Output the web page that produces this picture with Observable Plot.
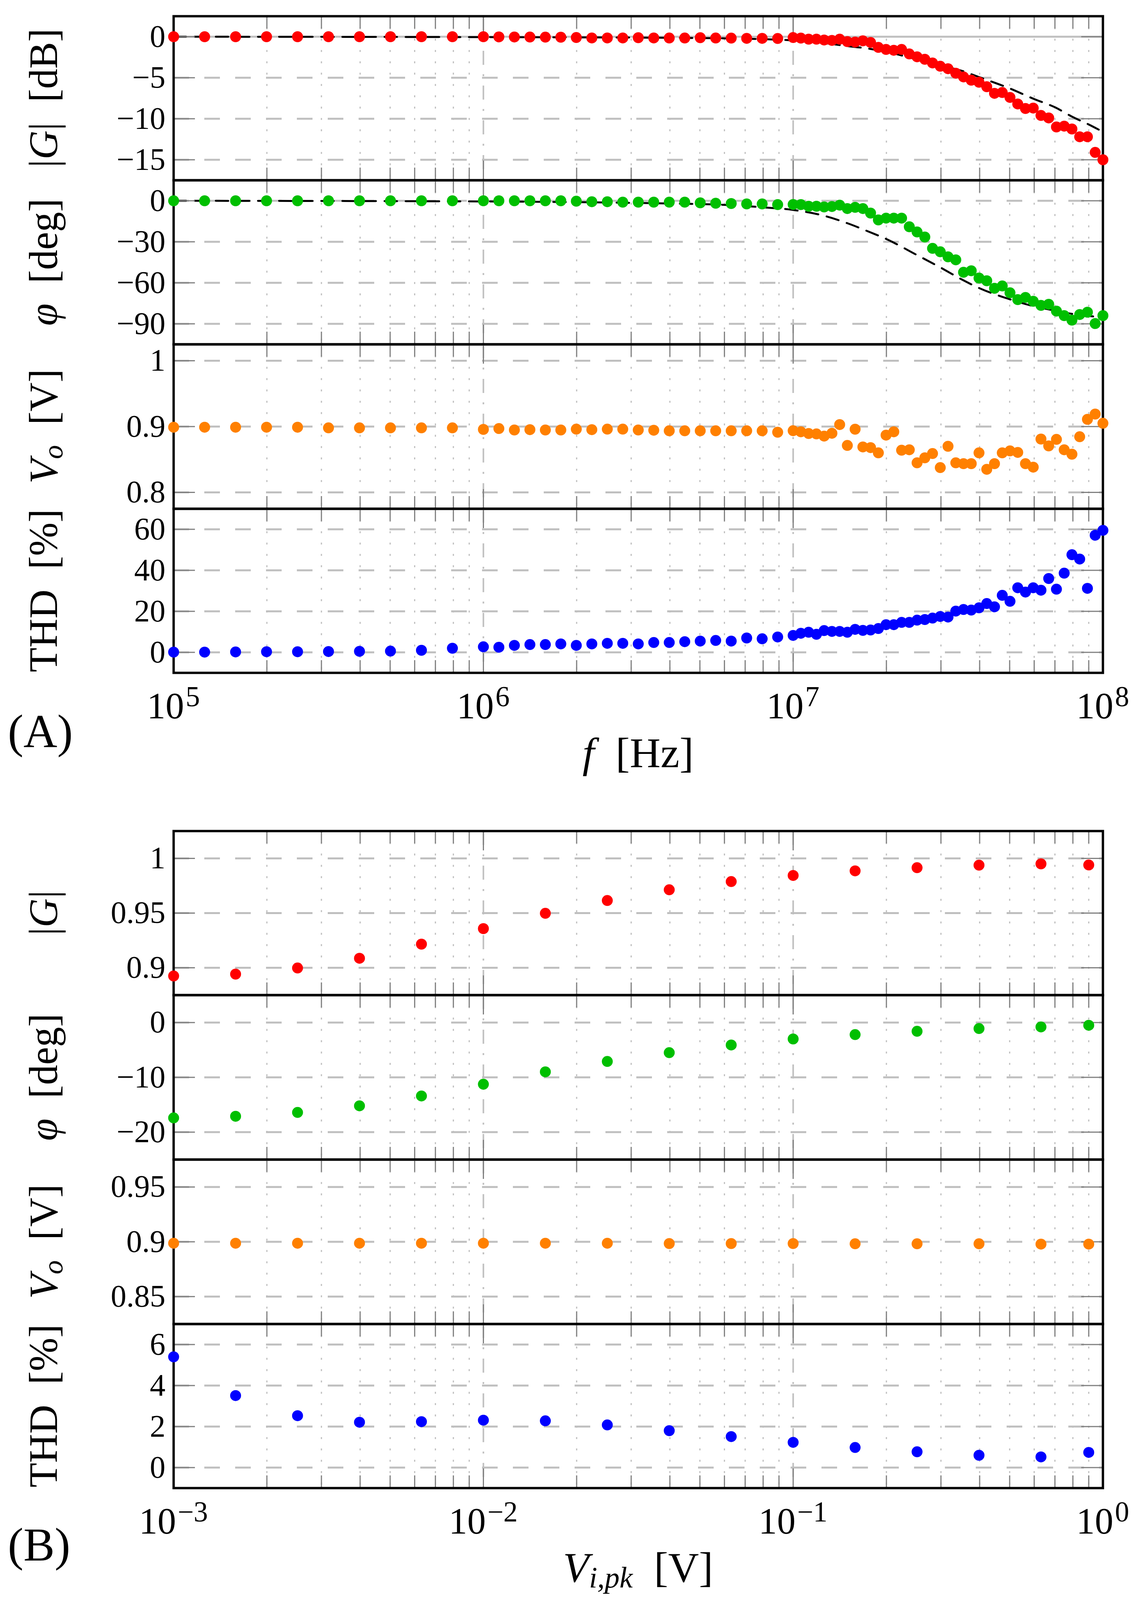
<!DOCTYPE html>
<html>
<head>
<meta charset="utf-8">
<script src="https://cdn.jsdelivr.net/npm/d3@7"></script>
<script src="https://cdn.jsdelivr.net/npm/@observablehq/plot@0.6"></script>
<style>
  html, body { margin: 0; padding: 0; background: white; overflow: hidden; }
  #chart { width: 2921px; }
  #chart svg { display: block; max-width: none; }
</style>
</head>
<body>
<div id="chart"></div>
<script>
// (A) frequency sweep
const freq = [
  1.000e5, 1.259e5, 1.585e5, 1.995e5, 2.512e5, 3.162e5, 3.981e5, 5.012e5, 6.310e5, 7.943e5,
  1.000e6, 1.122e6, 1.259e6, 1.413e6, 1.585e6, 1.778e6, 1.995e6, 2.239e6, 2.512e6, 2.818e6,
  3.162e6, 3.548e6, 3.981e6, 4.467e6, 5.012e6, 5.623e6, 6.310e6, 7.079e6, 7.943e6, 8.913e6,
  1.000e7, 1.059e7, 1.122e7, 1.189e7, 1.259e7, 1.334e7, 1.413e7, 1.496e7, 1.585e7, 1.679e7,
  1.778e7, 1.884e7, 1.995e7, 2.113e7, 2.239e7, 2.371e7, 2.512e7, 2.661e7, 2.818e7, 2.985e7,
  3.162e7, 3.350e7, 3.548e7, 3.758e7, 3.981e7, 4.217e7, 4.467e7, 4.732e7, 5.012e7, 5.309e7,
  5.623e7, 5.957e7, 6.310e7, 6.683e7, 7.079e7, 7.499e7, 7.943e7, 8.414e7, 8.913e7, 9.441e7,
  1.000e8
];
const gainDb = [
  0, 0, 0, 0, 0, 0, 0, 0, 0, 0,
  0, -0.02, -0.03, -0.04, -0.05, -0.06, -0.1, -0.15, -0.15, -0.15,
  -0.12, -0.15, -0.16, -0.16, -0.12, -0.16, -0.17, -0.2, -0.2, -0.22,
  -0.1, -0.17, -0.3, -0.3, -0.4, -0.45, -0.3, -0.6, -0.65, -0.5,
  -0.7, -1.3, -1.55, -1.65, -1.55, -2.1, -2.45, -2.75, -3.2, -3.6,
  -3.9, -4.45, -4.9, -5.3, -5.55, -6.1, -6.9, -6.8, -7.4, -8.2,
  -8.75, -8.7, -9.6, -9.9, -11.0, -10.9, -11.25, -12.2, -12.2, -14.1,
  -15.0
];
const phaseDeg = [
  0, 0, 0, 0, 0, 0, 0, 0, 0, 0,
  0, 0, 0, 0, 0, 0, -0.3, -0.7, -0.7, -1,
  -1, -1, -1, -1, -1.5, -1.8, -2, -2.3, -2.3, -2.8,
  -2.7, -2.8, -4, -4, -4.5, -4.2, -3.2, -5.7, -4.8, -5.7,
  -9, -14, -12.7, -12.7, -12.7, -19, -22.8, -26.5, -34.8, -37.3,
  -41, -43.2, -52.3, -51.2, -56.5, -58.5, -64, -62.3, -67.3, -72.3,
  -70.7, -73.5, -76.5, -75.7, -80.7, -84, -87.3, -83.2, -81.5, -89.8,
  -84
];
const voutA = [
  0.899, 0.899, 0.899, 0.899, 0.899, 0.898, 0.898, 0.898, 0.898, 0.898,
  0.8957, 0.897, 0.8948, 0.8953, 0.8948, 0.8948, 0.8961, 0.8953, 0.8961, 0.8961,
  0.8948, 0.8944, 0.8936, 0.8936, 0.8936, 0.8936, 0.8936, 0.8936, 0.8936, 0.8914,
  0.8937, 0.892, 0.8894, 0.8888, 0.8855, 0.8898, 0.903, 0.8713, 0.896, 0.869,
  0.868, 0.860, 0.887, 0.892, 0.864, 0.8647, 0.8449, 0.8525, 0.859, 0.8376,
  0.870, 0.8449, 0.8436, 0.8436, 0.860, 0.835, 0.8436, 0.860, 0.863, 0.8607,
  0.8436, 0.8383, 0.881, 0.8706, 0.8805, 0.8647, 0.858, 0.8845, 0.911, 0.919,
  0.905
];
const thdA = [
  0.1, 0.1, 0.2, 0.3, 0.3, 0.4, 0.5, 0.6, 1.0, 2.0,
  2.7, 2.5, 3.4, 3.8, 3.8, 4.1, 3.4, 4.1, 4.4, 4.4,
  4.1, 4.8, 4.8, 5.2, 5.5, 5.8, 5.5, 7.0, 6.6, 7.5,
  8.25, 9.3, 9.8, 8.8, 10.6, 10.2, 10.2, 9.8, 11.2, 10.7,
  10.9, 11.6, 13.5, 13.5, 14.6, 14.6, 15.7, 16, 16.7, 17.5,
  17.2, 20.1, 20.9, 20.6, 21.7, 23.8, 22.2, 27.8, 24.9, 31.5,
  29.4, 31.5, 30.3, 36, 30.8, 38.6, 47.6, 45.5, 31.2, 57.1,
  59.5
];

// (A) model curves (black dashed)
const modelFreq = [1e5, 1e6, 2e6, 4e6, 6e6, 8e6, 1e7, 1.25e7, 1.5e7, 1.75e7, 2e7, 2.5e7, 3e7, 3.5e7, 4e7, 5e7, 6e7, 7e7, 8e7, 9e7, 1e8];
const modelGainDb = [0, -0.05, -0.08, -0.13, -0.2, -0.3, -0.45, -0.75, -1.15, -1.45, -1.85, -2.75, -3.55, -4.15, -4.95, -6.3, -7.6, -8.6, -9.8, -10.7, -11.6];
const modelPhaseDeg = [0, -0.5, -1, -2, -3, -4.8, -6.7, -10.8, -16.5, -22.5, -28, -39.5, -49, -57.5, -64, -72, -77.2, -80.3, -82.8, -84.2, -85.5];

// (B) input amplitude sweep
const vin = [1.000e-3, 1.585e-3, 2.512e-3, 3.981e-3, 6.310e-3, 1.000e-2, 1.585e-2, 2.512e-2, 3.981e-2, 6.310e-2, 0.1, 0.1585, 0.2512, 0.3981, 0.631, 0.9];
const gainB = [0.8925, 0.8942, 0.8998, 0.9087, 0.9216, 0.9358, 0.9498, 0.9615, 0.9713, 0.9788, 0.9844, 0.9886, 0.9915, 0.9938, 0.995, 0.994];
const phaseB = [-17.4, -17.1, -16.4, -15.2, -13.4, -11.25, -9.0, -7.1, -5.5, -4.1, -3.0, -2.2, -1.6, -1.1, -0.8, -0.5];
const voutB = [0.8987, 0.8987, 0.8987, 0.8987, 0.8987, 0.8987, 0.8987, 0.8987, 0.8984, 0.8984, 0.8984, 0.8982, 0.8982, 0.8982, 0.8979, 0.8979];
const thdB = [5.4, 3.51, 2.53, 2.21, 2.24, 2.31, 2.28, 2.08, 1.80, 1.51, 1.23, 0.98, 0.77, 0.60, 0.52, 0.74];

// ticks
const xMajorA = [1e5, 1e6, 1e7, 1e8];
const xMinorA = [2e5, 3e5, 4e5, 5e5, 6e5, 7e5, 8e5, 9e5, 2e6, 3e6, 4e6, 5e6, 6e6, 7e6, 8e6, 9e6, 2e7, 3e7, 4e7, 5e7, 6e7, 7e7, 8e7, 9e7];
const xExpA = ["5", "6", "7", "8"];
const xMajorB = [1e-3, 1e-2, 1e-1, 1];
const xMinorB = [2e-3, 3e-3, 4e-3, 5e-3, 6e-3, 7e-3, 8e-3, 9e-3, 2e-2, 3e-2, 4e-2, 5e-2, 6e-2, 7e-2, 8e-2, 9e-2, 0.2, 0.3, 0.4, 0.5, 0.6, 0.7, 0.8, 0.9];
const xExpB = ["\u22123", "\u22122", "\u22121", "0"];

const W = 2921, ML = 444, MR = 98;
const FULL_H = 4703;
// the window can be shorter than the figure: squeeze vertically so it all shows
const k = Math.min(1, (window.innerHeight || FULL_H) / FULL_H);
const Y = v => Math.round(v * k);
const F = v => Math.round(v * (1 + k) / 2);

const FONT = "Liberation Serif";
const GRID = "#bfbfbf", TICK = "#808080";
const fmt = d => String(d).replace("-", "\u2212");

function spans(text, parts, size) {
  let drop = 0;
  for (const p of parts) {
    const s = text.append("tspan").text(p.t);
    if (p.i) s.attr("font-style", "italic");
    const want = p.sub ? Math.round(size * 0.14) : 0;
    if (want !== drop) { s.attr("dy", want - drop); drop = want; }
    if (p.sub) s.attr("font-size", Math.round(size * 0.7));
  }
}

function panel(o) {
  const H = o.inner, top = o.top || 0, bottom = o.bottom || 0;
  const innerW = W - ML - MR;
  const pts = o.x.map((x, i) => ({x, y: o.y[i]}));
  const minorLen = Y(37), majorLen = Y(57);
  const marks = [
    Plot.ruleX(o.minor, {stroke: GRID, strokeWidth: 3, strokeDasharray: "5,24"}),
    Plot.ruleX(o.major, {stroke: GRID, strokeWidth: 4, strokeDasharray: "36,24,5,24"}),
    Plot.ruleY(o.yTicks.filter(d => !(o.zero && d === 0)), {stroke: GRID, strokeWidth: 5, strokeDasharray: "40,39"})
  ];
  if (o.zero) marks.push(Plot.ruleY([0], {stroke: GRID, strokeWidth: 5}));
  if (o.model) {
    const m = o.model.x.map((x, i) => ({x, y: o.model.y[i]}));
    marks.push(Plot.line(m, {x: "x", y: "y", stroke: "black", strokeWidth: 5, strokeDasharray: "32,22", curve: "monotone-x"}));
  }
  marks.push(
    Plot.ruleX(o.minor, {stroke: TICK, strokeWidth: 3, insetTop: H - minorLen}),
    Plot.ruleX(o.minor, {stroke: TICK, strokeWidth: 3, insetBottom: H - minorLen}),
    Plot.ruleX(o.major, {stroke: TICK, strokeWidth: 3, insetTop: H - majorLen}),
    Plot.ruleX(o.major, {stroke: TICK, strokeWidth: 3, insetBottom: H - majorLen}),
    Plot.ruleY(o.yTicks, {stroke: TICK, strokeWidth: 3, insetRight: innerW - 55}),
    Plot.ruleY(o.yTicks, {stroke: TICK, strokeWidth: 3, insetLeft: innerW - 55}),
    Plot.frame({stroke: "black", strokeWidth: 6}),
    Plot.dot(pts, {x: "x", y: "y", r: F(15), fill: o.color}),
    Plot.axisY(o.yTicks, {tickSize: 0, tickPadding: 21, fontSize: F(85), tickFormat: fmt, label: null})
  );
  const chart = Plot.plot({
    width: W,
    height: top + H + bottom,
    marginLeft: ML,
    marginRight: MR,
    marginTop: top,
    marginBottom: bottom,
    x: {type: "log", domain: o.xDomain, axis: null},
    y: {domain: o.yDomain},
    style: {fontFamily: FONT, background: "none", overflow: "visible", color: "black"},
    marks
  });
  const svg = d3.select(chart);
  const ts = F(110);
  const t = svg.append("text")
    .attr("transform", `translate(146,${top + H / 2}) rotate(-90)`)
    .attr("text-anchor", "middle")
    .attr("font-family", FONT)
    .attr("font-size", ts)
    .attr("fill", "black");
  spans(t, o.title, ts);

  if (o.xLabels) {
    const sx = chart.scale("x");
    o.major.forEach((v, i) => {
      const tx = svg.append("text")
        .attr("x", sx.apply(v)).attr("y", top + H + Y(134))
        .attr("text-anchor", "middle")
        .attr("font-family", FONT).attr("font-size", F(102)).attr("fill", "black")
        .text("10");
      tx.append("tspan").attr("dx", 4).attr("dy", -Y(36)).attr("font-size", F(78)).text(o.xLabels[i]);
    });
    const xs = F(116);
    const xt = svg.append("text")
      .attr("x", (ML + W - MR) / 2).attr("y", top + H + Y(o.xTitleY))
      .attr("text-anchor", "middle")
      .attr("font-family", FONT).attr("font-size", xs).attr("fill", "black");
    spans(xt, o.xTitle, xs);
    svg.append("text")
      .attr("x", 20).attr("y", top + H + Y(o.tagY))
      .attr("text-anchor", "start")
      .attr("font-family", FONT).attr("font-size", F(128)).attr("fill", "black")
      .text(o.tag);
  }
  d3.select('#chart').append(() => chart);
}

// panel edges, in pixels of the full-size figure
const edgesA = [47, 529, 1011, 1495, 1977];
const edgesB = [2442, 2924, 3408, 3891, 4374];
const splitAB = 2377;

const A = {x: freq, xDomain: [1e5, 1e8], major: xMajorA, minor: xMinorA};
const B = {x: vin, xDomain: [1e-3, 1], major: xMajorB, minor: xMinorB};
const hA = i => Y(edgesA[i + 1]) - Y(edgesA[i]);
const hB = i => Y(edgesB[i + 1]) - Y(edgesB[i]);

panel({...A, top: Y(edgesA[0]), inner: hA(0), y: gainDb, yDomain: [-17.5, 2.5], yTicks: [0, -5, -10, -15], color: "#ff0000", zero: true,
  model: {x: modelFreq, y: modelGainDb},
  title: [{t: "|"}, {t: "G", i: true}, {t: "|\u2002[dB]"}]});
panel({...A, inner: hA(1), y: phaseDeg, yDomain: [-105, 15], yTicks: [0, -30, -60, -90], color: "#00bf00",
  model: {x: modelFreq, y: modelPhaseDeg},
  title: [{t: "\u03c6", i: true}, {t: "\u2002[deg]"}]});
panel({...A, inner: hA(2), y: voutA, yDomain: [0.775, 1.025], yTicks: [0.8, 0.9, 1], color: "#ff8000",
  title: [{t: "V", i: true}, {t: "o", i: true, sub: true}, {t: "\u2002[V]"}]});
panel({...A, inner: hA(3), bottom: Y(splitAB) - Y(edgesA[4]), y: thdA, yDomain: [-10, 70], yTicks: [0, 20, 40, 60], color: "#0000ff",
  title: [{t: "THD"}, {t: "\u2002[%]"}],
  xLabels: xExpA, xTitle: [{t: "f", i: true}, {t: "\u2002[Hz]"}], xTitleY: 278, tag: "(A)", tagY: 219});

panel({...B, top: Y(edgesB[0]) - Y(splitAB), inner: hB(0), y: gainB, yDomain: [0.875, 1.025], yTicks: [0.9, 0.95, 1], color: "#ff0000",
  title: [{t: "|"}, {t: "G", i: true}, {t: "|"}]});
panel({...B, inner: hB(1), y: phaseB, yDomain: [-25, 5], yTicks: [0, -10, -20], color: "#00bf00",
  title: [{t: "\u03c6", i: true}, {t: "\u2002[deg]"}]});
panel({...B, inner: hB(2), y: voutB, yDomain: [0.825, 0.975], yTicks: [0.85, 0.9, 0.95], color: "#ff8000",
  title: [{t: "V", i: true}, {t: "o", i: true, sub: true}, {t: "\u2002[V]"}]});
panel({...B, inner: hB(3), bottom: Y(FULL_H) - Y(edgesB[4]), y: thdB, yDomain: [-1, 7], yTicks: [0, 2, 4, 6], color: "#0000ff",
  title: [{t: "THD"}, {t: "\u2002[%]"}],
  xLabels: xExpB, xTitle: [{t: "V", i: true}, {t: "i,pk", i: true, sub: true}, {t: "\u2002[V]"}], xTitleY: 276, tag: "(B)", tagY: 214});
</script>
</body>
</html>
